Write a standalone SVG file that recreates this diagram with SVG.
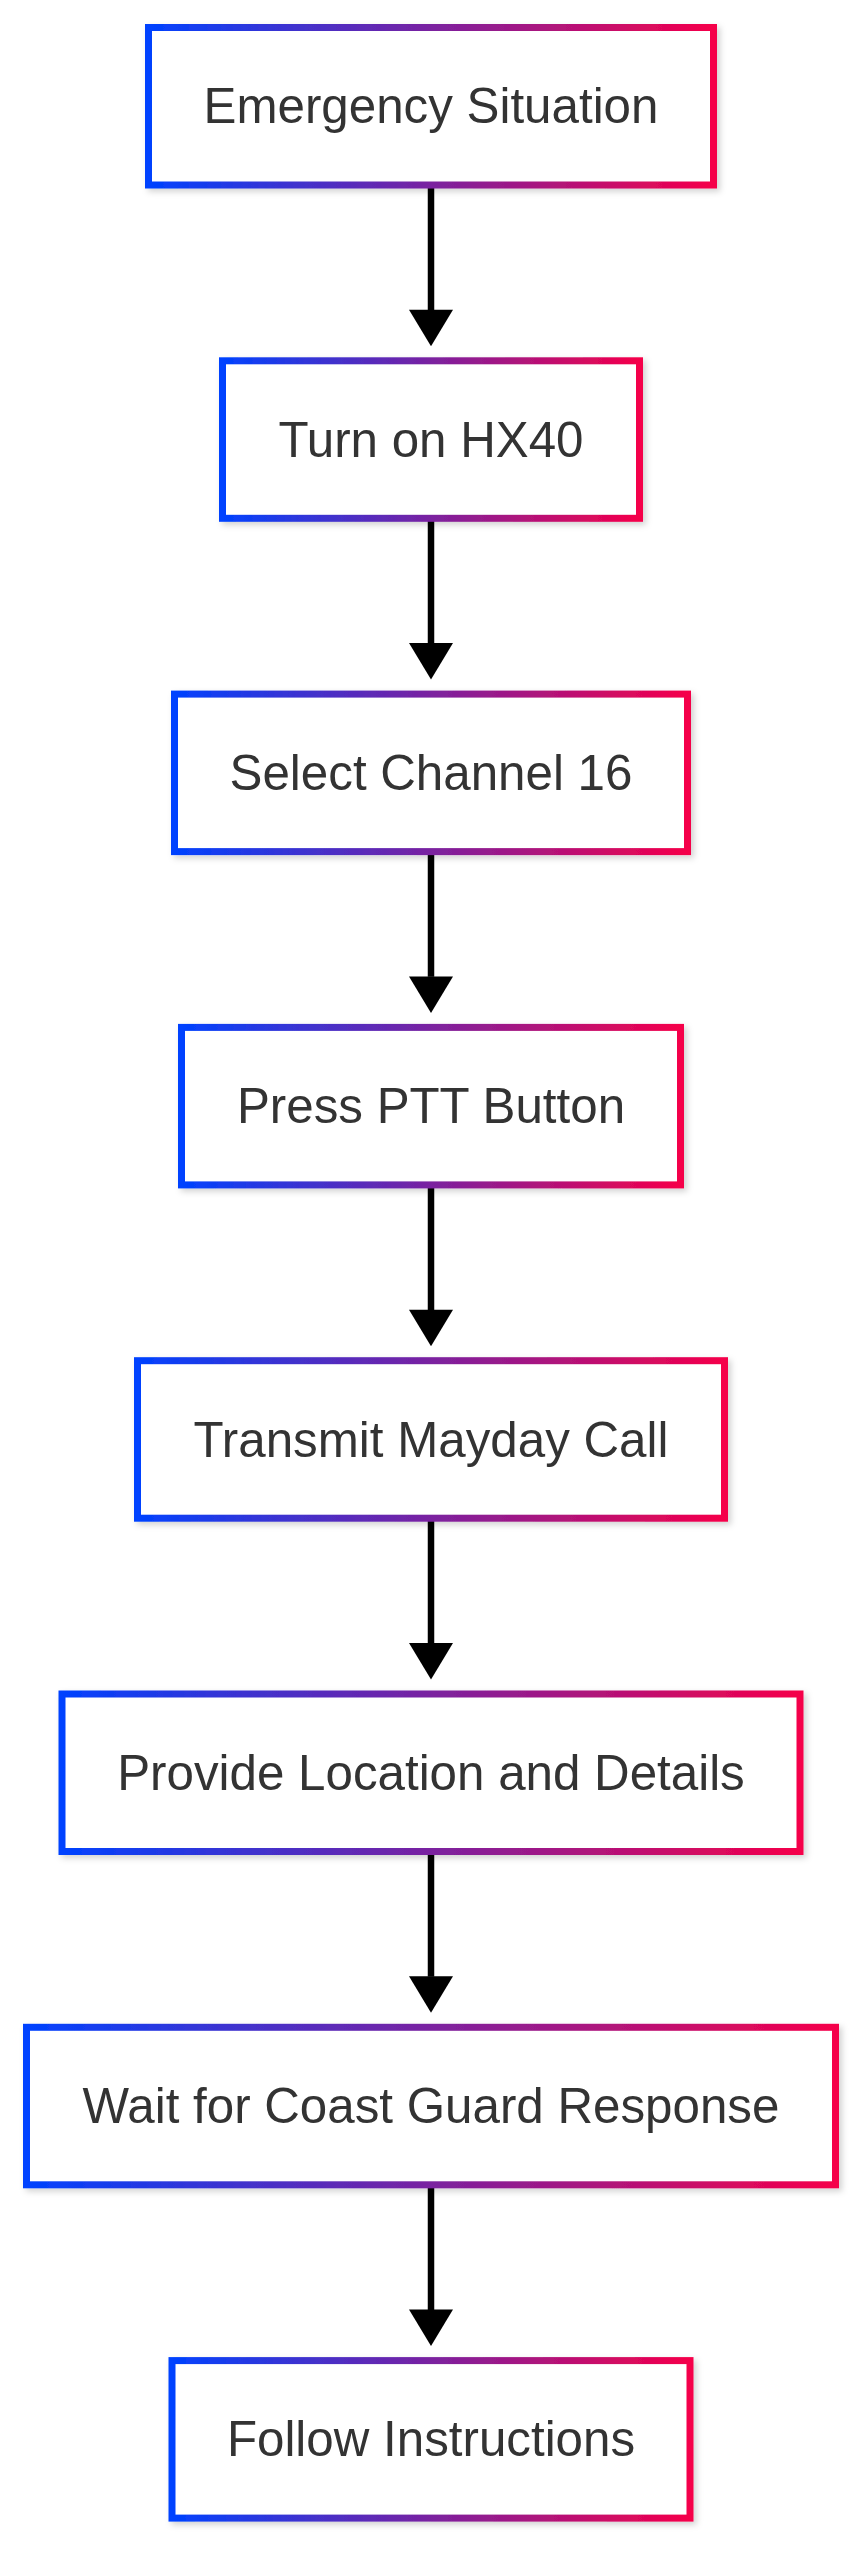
<svg xmlns="http://www.w3.org/2000/svg" width="867" height="2560" viewBox="0 0 867 2560">
<defs>
<linearGradient id="g" x1="0" y1="0" x2="1" y2="0">
<stop offset="0" stop-color="#0042FF"/>
<stop offset="0.5" stop-color="#7A22A0"/>
<stop offset="1" stop-color="#F5004A"/>
</linearGradient>
<filter id="sh" x="-10%" y="-20%" width="120%" height="140%">
<feDropShadow dx="3" dy="3" stdDeviation="3" flood-color="#000" flood-opacity="0.18"/>
</filter>
<style>
.box{fill:#fff;stroke:url(#g);stroke-width:7;filter:url(#sh)}
.lbl{font-family:"Liberation Sans",Arial,sans-serif;font-size:49.3px;fill:#333;text-anchor:middle}
.edge{stroke:#000;stroke-width:6.5;fill:none}
.head{fill:#000}
</style>
</defs>
<rect width="867" height="2560" fill="#fff"/>
<g id="connectors">
<path class="edge" d="M431 185V310"/><polygon class="head" points="409,309.8 453,309.8 431,346.3"/>
<path class="edge" d="M431 518.3V643.5"/><polygon class="head" points="409,643.1 453,643.1 431,679.6"/>
<path class="edge" d="M431 851.6V976.8"/><polygon class="head" points="409,976.4 453,976.4 431,1012.9"/>
<path class="edge" d="M431 1184.9V1310"/><polygon class="head" points="409,1309.7 453,1309.7 431,1346.2"/>
<path class="edge" d="M431 1518.2V1643.4"/><polygon class="head" points="409,1643 453,1643 431,1679.5"/>
<path class="edge" d="M431 1851.5V1976.7"/><polygon class="head" points="409,1976.3 453,1976.3 431,2012.8"/>
<path class="edge" d="M431 2184.8V2310"/><polygon class="head" points="409,2309.6 453,2309.6 431,2346.1"/>
</g>
<g id="n1"><rect class="box" x="148.5" y="27.5" width="565" height="157.5"/><text class="lbl" x="431" y="123.3">Emergency Situation</text></g>
<g id="n2"><rect class="box" x="222.5" y="360.8" width="417" height="157.5"/><text class="lbl" x="431" y="456.6">Turn on HX40</text></g>
<g id="n3"><rect class="box" x="174.5" y="694.1" width="513" height="157.5"/><text class="lbl" x="431" y="789.9">Select Channel 16</text></g>
<g id="n4"><rect class="box" x="181.5" y="1027.4" width="499" height="157.5"/><text class="lbl" x="431" y="1123.2">Press PTT Button</text></g>
<g id="n5"><rect class="box" x="137.5" y="1360.7" width="587" height="157.5"/><text class="lbl" x="431" y="1456.5">Transmit Mayday Call</text></g>
<g id="n6"><rect class="box" x="62" y="1694" width="738" height="157.5"/><text class="lbl" x="431" y="1789.8">Provide Location and Details</text></g>
<g id="n7"><rect class="box" x="26.5" y="2027.3" width="809" height="157.5"/><text class="lbl" x="431" y="2123.1">Wait for Coast Guard Response</text></g>
<g id="n8"><rect class="box" x="172" y="2360.6" width="518" height="157.5"/><text class="lbl" x="431" y="2456.4">Follow Instructions</text></g>
</svg>
